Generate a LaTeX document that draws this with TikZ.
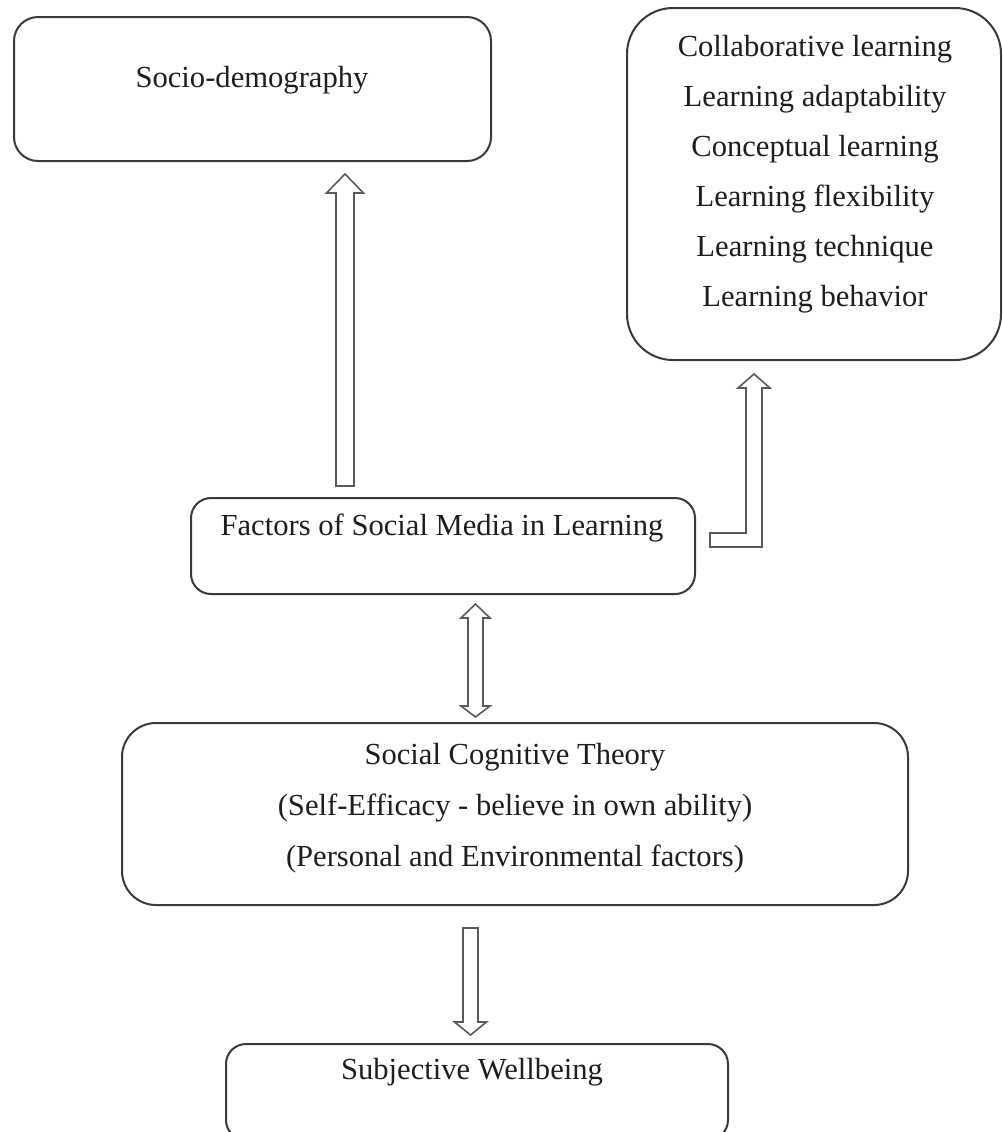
\documentclass[tikz,border=0pt]{standalone}
\usepackage{fontspec}
\setmainfont{Liberation Serif}
\usetikzlibrary{calc}
\definecolor{boxline}{HTML}{3A3A3A}
\definecolor{arrline}{HTML}{5A5A5A}
\definecolor{txt}{HTML}{1E1E1E}
\newcommand{\myVArrow}[5]{% #1 tail coord, #2 tip coord, #3 half shaft, #4 half head, #5 head length (sign gives direction)
  \draw[blockarrow] ($(#1)+(-#3,0)$) -- ($(#2)+(-#3,#5)$) -- ($(#2)+(-#4,#5)$) -- (#2)
    -- ($(#2)+(#4,#5)$) -- ($(#2)+(#3,#5)$) -- ($(#1)+(#3,0)$) -- cycle;}
\begin{document}
\begin{tikzpicture}[x=0.5pt,y=-0.5pt,
  box/.style={draw=boxline,line width=1pt,rounded corners=#1,inner sep=0pt,fill=white},
  lbl/.style={text=txt,inner sep=0pt,font=\fontsize{15.3}{25}\selectfont,align=center},
  blockarrow/.style={draw=arrline,line width=0.8pt,fill=white,line join=miter}]
\useasboundingbox (0,0) rectangle (1003,1132);
\clip (0,0) rectangle (1003,1132);
\fill[white] (0,0) rectangle (1003,1132);

% boxes
\node[box=12pt,minimum width=238.5pt,minimum height=72pt] (soc) at (252.5,89) {};
\node[box=23pt,minimum width=187pt,minimum height=176pt] (lst) at (814,184) {};
\node[box=10pt,minimum width=252pt,minimum height=48pt] (fac) at (443,546) {};
\node[box=17pt,minimum width=393pt,minimum height=91pt] (sct) at (515,814) {};
\node[box=10pt,minimum width=251pt,minimum height=48pt] (swb) at (477,1092) {};

% texts
\node[lbl] (tsoc) at (252,80) {Socio-demography};
\node[lbl] (tlst) at (815,174) {Collaborative learning\\Learning adaptability\\Conceptual learning\\Learning flexibility\\Learning technique\\Learning behavior};
\node[lbl] (tfac) at (442,528) {Factors of Social Media in Learning};
\node[lbl,font=\fontsize{15.3}{25.5}\selectfont] (tsct) at (515,808) {Social Cognitive Theory\\(Self-Efficacy - believe in own ability)\\(Personal and Environmental factors)};
\node[lbl] (tswb) at (472,1072) {Subjective Wellbeing};

% arrow 1: Factors -> Socio-demography
\coordinate (a1b) at ($(fac.north)+(-98,-11)$);
\coordinate (a1t) at ($(a1b|-soc.south)+(0,12)$);
\myVArrow{a1b}{a1t}{9}{18.5}{19}

% arrow 2: L-shaped, Factors -> list box
\coordinate (a2s) at ($(fac.east)+(14,-6)$);
\coordinate (a2c) at ($(a2s)+(44,0)$);
\coordinate (a2t) at ($(a2c|-lst.south)+(0,13)$);
\draw[blockarrow] ($(a2s)+(0,-7)$) -- ($(a2c)+(-8,-7)$) -- ($(a2t)+(-8,14)$) -- ($(a2t)+(-16,14)$)
  -- (a2t) -- ($(a2t)+(16,14)$) -- ($(a2t)+(8,14)$) -- ($(a2c)+(8,7)$) -- ($(a2s)+(0,7)$) -- cycle;

% arrow 3: double, Factors <-> Social Cognitive Theory
\coordinate (a3t) at ($(fac.south)+(32.5,9)$);
\coordinate (a3b) at ($(a3t|-sct.north)+(0,-5)$);
\draw[blockarrow] (a3t) -- ($(a3t)+(14.5,14)$) -- ($(a3t)+(7.5,14)$) -- ($(a3b)+(7.5,-11)$)
  -- ($(a3b)+(14.5,-11)$) -- (a3b) -- ($(a3b)+(-14.5,-11)$) -- ($(a3b)+(-7.5,-11)$)
  -- ($(a3t)+(-7.5,14)$) -- ($(a3t)+(-14.5,14)$) -- cycle;

% arrow 4: Social Cognitive Theory -> Subjective Wellbeing
\coordinate (a4s) at ($(sct.south)+(-44.5,22)$);
\coordinate (a4t) at ($(a4s|-swb.north)+(0,-8)$);
\myVArrow{a4s}{a4t}{7.5}{16}{-13}
\end{tikzpicture}
\end{document}
